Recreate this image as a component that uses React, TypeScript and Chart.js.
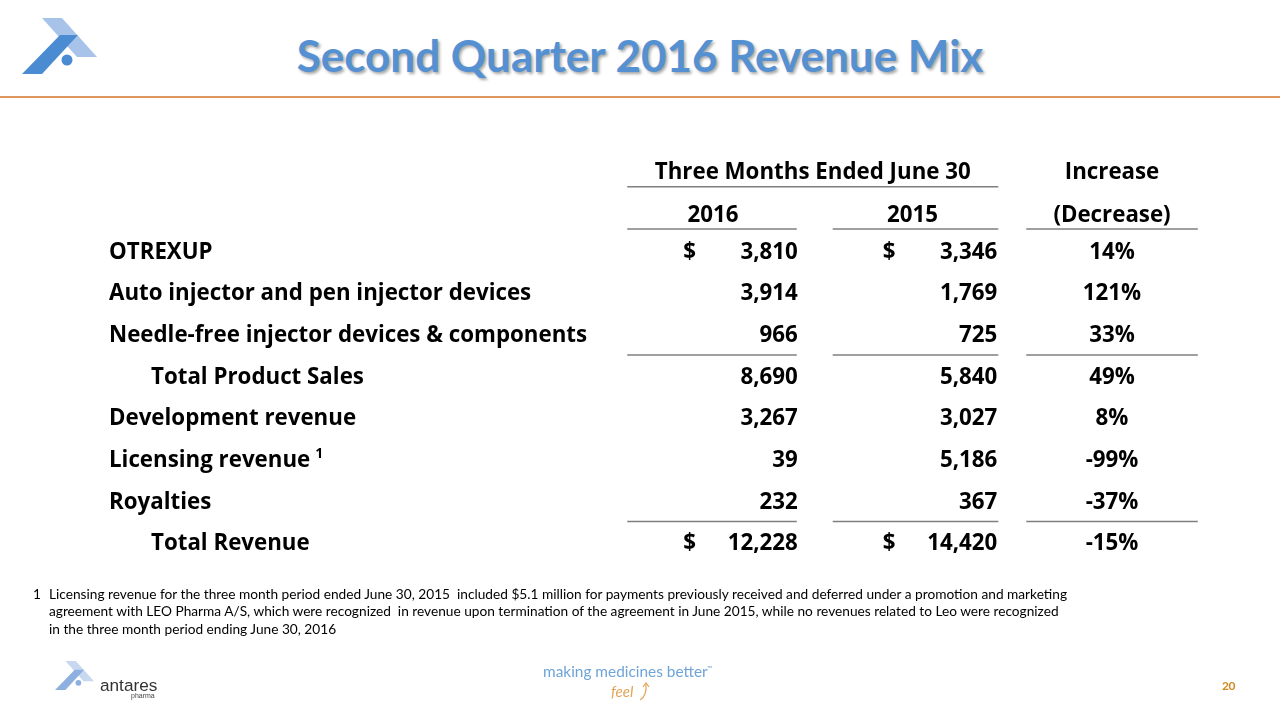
import React, { useEffect, useRef } from 'react';
import { Chart, registerables } from 'chart.js';

Chart.register(...registerables);

// ---------------- data ----------------
const rowLabels = [
  'OTREXUP',
  'Auto injector and pen injector devices',
  'Needle-free injector devices & components',
  'Total Product Sales',
  'Development revenue',
  'Licensing revenue',
  'Royalties',
  'Total Revenue',
];
const footnoteRefs = ['', '', '', '', '', '1', '', ''];
const subtotalRows = [false, false, false, true, false, false, false, true];
const dollarRows = [true, false, false, false, false, false, false, true];
const revenue2016 = [3810, 3914, 966, 8690, 3267, 39, 232, 12228];
const revenue2015 = [3346, 1769, 725, 5840, 3027, 5186, 367, 14420];
const changePct = [14, 121, 33, 49, 8, -99, -37, -15];
const periodHeader = 'Three Months Ended June 30';
const yearLabels = ['2016', '2015'];
const changeHeader = ['Increase', '(Decrease)'];
const ruleAfterRows = [2, 6];
const titleText = 'Second Quarter 2016 Revenue Mix';
const footnoteNumber = '1';
const footnoteLines = [
  'Licensing revenue for the three month period ended June 30, 2015  included $5.1 million for payments previously received and deferred under a promotion and marketing',
  'agreement with LEO Pharma A/S, which were recognized  in revenue upon termination of the agreement in June 2015, while no revenues related to Leo were recognized',
  'in the three month period ending June 30, 2016',
];
const pageNumber = '20';

// ---------------- style ----------------
const FONT = 'Lato, "Noto Sans", sans-serif';
const TFONT = '"Open Sans", Lato, sans-serif';
const TABLE_FS = 22.3;
const LABEL_X = 109;
const INDENT = 42;

const fmtNum = (v: number) => v.toLocaleString('en-US');
const fmtPct = (v: number) => `${v}%`;

const tablePlugin = {
  id: 'revenueTable',
  afterDatasetsDraw(chart: any) {
    const { ctx, scales } = chart;
    const xs = scales.x;
    const ys = scales.y;
    const rowH = ys.getPixelForValue(1) - ys.getPixelForValue(0);
    const capOff = TABLE_FS * 0.36;
    const half = 0.43;
    const font = `bold ${TABLE_FS}px ${TFONT}`;
    ctx.save();
    ctx.fillStyle = '#000';
    ctx.textBaseline = 'alphabetic';
    ctx.font = font;

    // row labels
    rowLabels.forEach((lab, i) => {
      const py = ys.getPixelForValue(i) + capOff;
      const lx = LABEL_X + (subtotalRows[i] ? INDENT : 0);
      ctx.textAlign = 'left';
      ctx.font = font;
      ctx.fillText(lab, lx, py);
      if (footnoteRefs[i]) {
        const w = ctx.measureText(lab).width;
        ctx.font = `bold ${Math.round(TABLE_FS * 0.62)}px ${TFONT}`;
        ctx.fillText(footnoteRefs[i], lx + w + 5, py - 9);
      }
    });

    // values from dataset points
    ctx.font = font;
    chart.data.datasets.forEach((ds: any, di: number) => {
      const meta = chart.getDatasetMeta(di);
      meta.data.forEach((pt: any, i: number) => {
        const py = pt.y + capOff;
        const col = ds.data[i].x;
        if (ds.kind === 'money') {
          const right = xs.getPixelForValue(col + 0.425);
          ctx.textAlign = 'right';
          ctx.fillText(fmtNum(ds.values[i]), right, py);
          if (dollarRows[i]) {
            ctx.textAlign = 'left';
            ctx.fillText('$', xs.getPixelForValue(col - half) + 56, py);
          }
        } else {
          ctx.textAlign = 'center';
          ctx.fillText(fmtPct(ds.values[i]), pt.x, py);
        }
      });
    });

    // headers
    const row0 = ys.getPixelForValue(0);
    const c1 = xs.getPixelForValue(1);
    const c2 = xs.getPixelForValue(2);
    const c3 = xs.getPixelForValue(3);
    ctx.textAlign = 'center';
    ctx.fillText(periodHeader, (xs.getPixelForValue(1 - half) + xs.getPixelForValue(2 + half)) / 2, row0 - 80 + capOff);
    ctx.fillText(changeHeader[0], c3, row0 - 80 + capOff);
    ctx.fillText(yearLabels[0], c1, row0 - 37 + capOff);
    ctx.fillText(yearLabels[1], c2, row0 - 37 + capOff);
    ctx.fillText(changeHeader[1], c3, row0 - 37 + capOff);

    // rules
    ctx.strokeStyle = '#7f7f7f';
    ctx.lineWidth = 1.5;
    const seg = (a: number, b: number, yy: number) => {
      ctx.beginPath();
      ctx.moveTo(a, yy);
      ctx.lineTo(b, yy);
      ctx.stroke();
    };
    seg(xs.getPixelForValue(1 - half), xs.getPixelForValue(2 + half), row0 - 64);
    const colRules = (yy: number) => {
      seg(xs.getPixelForValue(1 - half), xs.getPixelForValue(1 + half - 0.01), yy);
      seg(xs.getPixelForValue(2 - half + 0.03), xs.getPixelForValue(2 + half), yy);
      seg(xs.getPixelForValue(3 - half), xs.getPixelForValue(3 + half), yy);
    };
    colRules(row0 - rowH / 2 - 1);
    ruleAfterRows.forEach((r) => colRules(ys.getPixelForValue(r) + rowH / 2));
    ctx.restore();
  },
};

function RevenueTable() {
  const ref = useRef<HTMLCanvasElement | null>(null);
  useEffect(() => {
    if (!ref.current) return;
    const mk = (values: number[], col: number, kind: string, label: string) => ({
      label,
      kind,
      values,
      data: values.map((_, i) => ({ x: col, y: rowLabels[i] })),
      pointRadius: 0,
      pointHoverRadius: 0,
      showLine: false,
    });
    const chart = new Chart(ref.current, {
      type: 'scatter',
      data: {
        labels: rowLabels,
        datasets: [
          mk(revenue2016, 1, 'money', yearLabels[0]),
          mk(revenue2015, 2, 'money', yearLabels[1]),
          mk(changePct, 3, 'pct', changeHeader.join(' ')),
        ] as any,
      },
      options: {
        animation: false,
        responsive: false,
        devicePixelRatio: 1,
        layout: { padding: { top: 230, bottom: 157, left: 0, right: 0 } },
        plugins: { legend: { display: false }, tooltip: { enabled: false }, title: { display: false } },
        scales: {
          x: { type: 'linear', min: -2.574, max: 3.842, display: false },
          y: { type: 'category', labels: rowLabels, offset: true, display: false },
        },
      } as any,
      plugins: [tablePlugin],
    });
    return () => chart.destroy();
  }, []);
  return <canvas ref={ref} width={1280} height={720} style={{ position: 'absolute', left: 0, top: 0 }} />;
}

function Txt(props: { x: number; baseline: number; size: number; children: any; style?: any; asc?: number }) {
  const asc = props.asc ?? 0.887;
  return (
    <div
      style={{
        position: 'absolute',
        left: props.x,
        top: props.baseline - asc * props.size,
        fontSize: props.size,
        lineHeight: 1,
        whiteSpace: 'pre',
        fontFamily: FONT,
        ...props.style,
      }}
    >
      {props.children}
    </div>
  );
}

function Logo({ x, y, s, dark, light }: { x: number; y: number; s: number; dark: string; light: string }) {
  return (
    <svg
      width={80 * s}
      height={60 * s}
      viewBox="0 0 80 60"
      style={{ position: 'absolute', left: x, top: y }}
    >
      <polygon points="20,0 40,0 75,39 55,39" fill={light} />
      <polygon points="38,17 56,17 20,56 0,56" fill={dark} />
      <circle cx="45" cy="42" r="5.5" fill={dark} />
    </svg>
  );
}

export default function App() {
  return (
    <div style={{ position: 'absolute', left: 0, top: 0, width: 1280, height: 720, background: '#fff', overflow: 'hidden' }}>
      <Logo x={22} y={18} s={1} dark="#4A8BD2" light="#A8C3EA" />
      <div
        style={{
          position: 'absolute',
          left: 0,
          width: 1280,
          top: 72 - 0.887 * 44,
          textAlign: 'center',
          fontFamily: FONT,
          fontWeight: 700,
          fontSize: 44,
          lineHeight: 1,
          color: '#5591D2',
          textShadow: '2px 2px 3px rgba(0,0,0,0.35)',
        }}
      >
        {titleText}
      </div>
      <div style={{ position: 'absolute', left: 0, top: 96, width: 1280, height: 2, background: '#DE955E' }} />
      <RevenueTable />
      <Txt x={33} baseline={599} size={13.7}>{footnoteNumber}</Txt>
      {footnoteLines.map((l, i) => (
        <Txt key={i} x={49} baseline={599 + i * 17.5} size={13.7}>{l}</Txt>
      ))}
      <Logo x={55} y={661} s={0.52} dark="#8DB0E0" light="#C8D8F0" />
      <Txt x={100} baseline={692} size={17.2} asc={0.8465} style={{ fontFamily: '"Liberation Sans", sans-serif', color: '#333' }}>antares</Txt>
      <Txt x={131} baseline={698} size={7} asc={0.8465} style={{ fontFamily: '"Liberation Sans", sans-serif', color: '#444' }}>pharma</Txt>
      <Txt x={543} baseline={678} size={15.4} style={{ color: '#6FA4D8' }}>making medicines better</Txt>
      <Txt x={707} baseline={671} size={7} style={{ color: '#6FA4D8' }}>™</Txt>
      <Txt x={611} baseline={697} size={15} style={{ color: '#E2A458', fontStyle: 'italic' }}>feel</Txt>
      <svg width={30} height={30} style={{ position: 'absolute', left: 630, top: 676 }}>
        <path d="M10,24 Q17,20 16,8" stroke="#E2A458" strokeWidth={1.2} fill="none" />
        <path d="M13,11 L16,7 L19,11" stroke="#E2A458" strokeWidth={1.2} fill="none" />
      </svg>
      <Txt x={1222} baseline={691} size={12} style={{ color: '#D08A22', fontWeight: 700, letterSpacing: -0.5 }}>{pageNumber}</Txt>
    </div>
  );
}
